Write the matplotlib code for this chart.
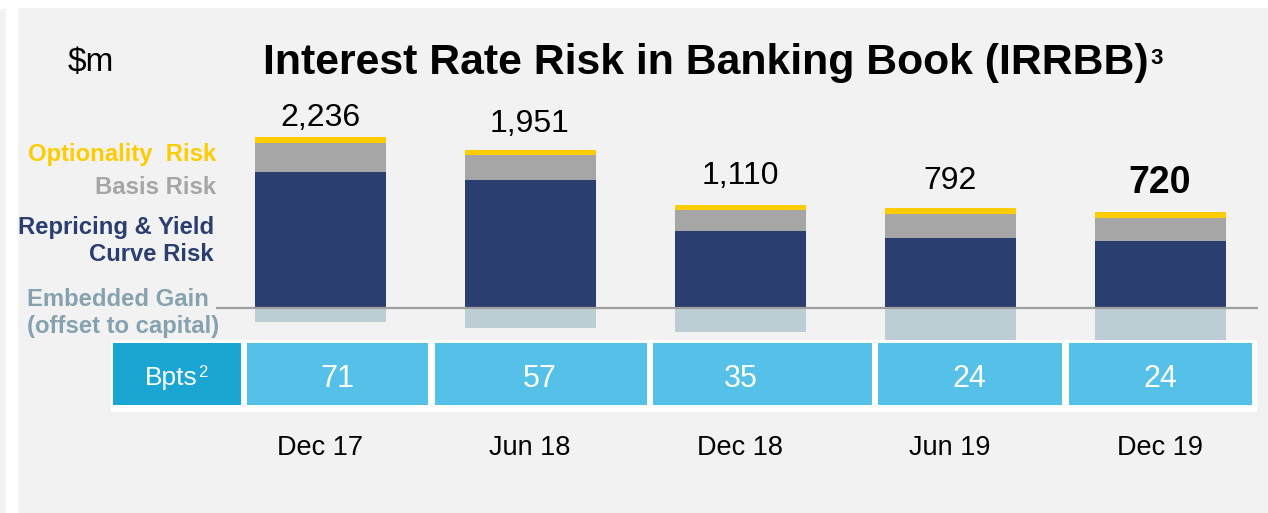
import matplotlib
matplotlib.use("Agg")
import matplotlib.pyplot as plt
from matplotlib.patches import Rectangle

plt.rcParams['font.family'] = ['Liberation Sans', 'DejaVu Sans']

# ---------------- data ----------------
periods = ["Dec 17", "Jun 18", "Dec 18", "Jun 19", "Dec 19"]
repricing = [1780, 1670, 998, 906, 871]
basis = [376, 328, 279, 322, 305]
optionality = [80, 66, 62, 75, 79]
embedded_gain = [-186, -269, -325, -430, -430]
totals = ["2,236", "1,951", "1,110", "792", "720"]
bpts = ["71", "57", "35", "24", "24"]

# ---------------- style ----------------
W, H = 1268, 513
NAVY = "#2A3F6F"
GREY = "#A6A6A6"
GOLD = "#FFCC00"
EMB = "#BCCDD4"
EMB_TXT = "#86A2B0"
BG = "#F2F2F2"
BOX_DARK = "#1BA5D3"
BOX_LIGHT = "#55C1E8"


def fx(px):
    return px / W


def fy(py):
    return 1 - py / H


fig = plt.figure(figsize=(W / 100, H / 100), dpi=100, facecolor="white")

# background panels
fig.patches.append(Rectangle((fx(18), 0), 1 - fx(18), fy(8), transform=fig.transFigure,
                             facecolor=BG, edgecolor="none", zorder=-10))
fig.patches.append(Rectangle((0, 0), fx(6), fy(9), transform=fig.transFigure,
                             facecolor=BG, edgecolor="none", zorder=-10))

# ---------------- bar axes ----------------
left_px, right_px = 216, 1258
top_px, bot_px = 90, 345
base_px = 307.5
scale = 13.1  # $m per pixel
centers_px0, step_px = 320, 210

ax = fig.add_axes([fx(left_px), fy(bot_px), fx(right_px - left_px), (bot_px - top_px) / H])
ax.set_facecolor("none")
ax.set_xlim((left_px - centers_px0) / step_px, (right_px - centers_px0) / step_px)
ax.set_ylim(-(bot_px - base_px) * scale, (base_px - top_px) * scale)

x = list(range(len(periods)))
bw = 131 / step_px
ax.bar(x, embedded_gain, width=bw, color=EMB, edgecolor="none", zorder=2)
ax.bar(x, repricing, width=bw, color=NAVY, edgecolor="none", zorder=2)
b2 = [r for r in repricing]
ax.bar(x, basis, width=bw, bottom=b2, color=GREY, edgecolor="none", zorder=2)
b3 = [r + b for r, b in zip(repricing, basis)]
ax.bar(x, optionality, width=bw, bottom=b3, color=GOLD, edgecolor="none", zorder=2)
ax.axhline(0, color="#A0A0A0", lw=1.6, zorder=3)

label_off = [19, 26, 29, 27, 29]  # pixels above bar top
for i, lab in enumerate(totals):
    top = repricing[i] + basis[i] + optionality[i]
    last = i == len(totals) - 1
    ax.annotate(lab, xy=(i, top), xytext=(0, label_off[i] * 0.72), textcoords="offset points",
                ha="center", va="center", fontsize=27 if last else 23,
                fontweight="bold" if last else "normal", color="black")

ax.set_xticks(x)
ax.set_xticklabels(periods, fontsize=19.5)
ax.tick_params(axis="x", length=0, pad=64.5)
ax.set_yticks([])
for s in ax.spines.values():
    s.set_visible(False)

# ---------------- Bpts strip ----------------
sax = fig.add_axes([0, 0, 1, 1])
sax.set_xlim(0, W)
sax.set_ylim(H, 0)
sax.axis("off")
sax.set_zorder(-1)
sax.add_patch(Rectangle((111, 340), 1257 - 111, 72, facecolor="white", edgecolor="none"))
box_edges = [(247, 428), (435, 647), (653, 872), (878, 1062), (1069, 1252)]
sax.add_patch(Rectangle((113, 343), 241 - 113, 62, facecolor=BOX_DARK, edgecolor="none"))
bt = sax.text(171, 378, "Bpts", color="white", fontsize=19, ha="center", va="center")
sax.annotate("2", xy=(1, 0.5), xycoords=bt, xytext=(0.5, 4), textcoords="offset points",
             fontsize=12, color="white", ha="left", va="center")
for (x0, x1), v in zip(box_edges, bpts):
    sax.add_patch(Rectangle((x0, 343), x1 - x0, 62, facecolor=BOX_LIGHT, edgecolor="none"))

centers_txt = [337, 540, 741, 969, 1160]
for cx, v in zip(centers_txt, bpts):
    sax.text(cx, 379, v, color="white", fontsize=22, ha="center", va="center")

# ---------------- titles & legend text ----------------
fig.text(fx(68), fy(62), "$m", fontsize=24, ha="left", va="center")
t = fig.text(fx(263), fy(63), "Interest Rate Risk in Banking Book (IRRBB)", fontsize=30.8,
             fontweight="bold", ha="left", va="center")
ax.annotate("3", xy=(1, 0.5), xycoords=t, xytext=(1, 3), textcoords="offset points",
            fontsize=16, fontweight="bold", ha="left", va="center", annotation_clip=False)

LS = 17.2
fig.text(fx(216), fy(154), "Optionality  Risk", color=GOLD, fontsize=LS, fontweight="bold",
         ha="right", va="center")
fig.text(fx(216), fy(188), "Basis Risk", color=GREY, fontsize=LS, fontweight="bold",
         ha="right", va="center")
fig.text(fx(214), fy(241), "Repricing & Yield\nCurve Risk", color=NAVY, fontsize=LS,
         fontweight="bold", ha="right", va="center", multialignment="right", linespacing=1.2)
fig.text(fx(27), fy(313), "Embedded Gain\n(offset to capital)", color=EMB_TXT, fontsize=LS,
         fontweight="bold", ha="left", va="center", multialignment="left", linespacing=1.2)

fig.savefig("out.png", dpi=100, facecolor="white")
